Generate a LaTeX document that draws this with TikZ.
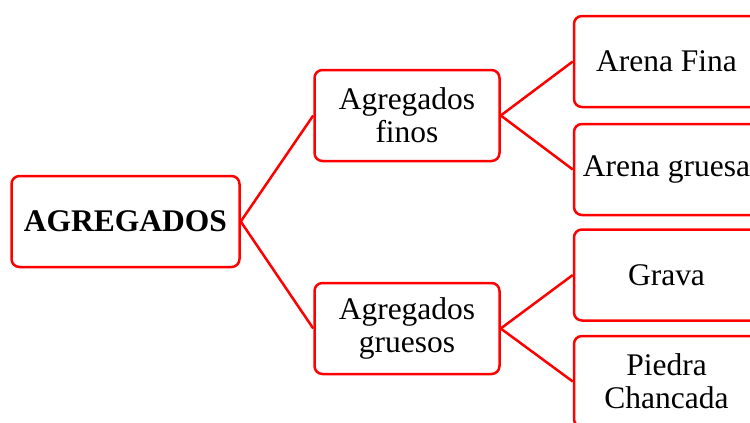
\documentclass[tikz,border=0pt]{standalone}
\usepackage{fontspec}
\setmainfont{Liberation Serif}
\usepackage{tikz}
\usetikzlibrary{positioning}
\tikzset{my_tree/.style={x=1pt,y=1pt,line width=2.5pt,red}}
\tikzset{my_box/.style={draw=red,rounded corners=8pt,text=black,align=center,inner sep=0pt,
    minimum width=185pt,minimum height=91pt,font=\fontsize{31.5}{33}\selectfont}}
\tikzset{my_root/.style={my_box,minimum width=228pt,font=\fontsize{31.5}{33}\selectfont\bfseries}}

\begin{document}
\begin{tikzpicture}[my_tree]
    \useasboundingbox (0,0) rectangle (750,-423);
    %\draw[help lines] (0,0) grid (750,-423);
    \node[my_root] (agr) at (125.5,-221.5) {AGREGADOS};
    \node[my_box] (finos) at (407,-115.5) {Agregados\\finos};
    \node[my_box] (gruesos) at (407,-328.5) {Agregados\\gruesos};
    \node[my_box] (afina) at (666.5,-61.5) {Arena Fina};
    \node[my_box] (agruesa) at (666.5,-169.5) {Arena gruesa};
    \node[my_box] (grava) at (666.5,-275) {Grava};
    \node[my_box] (piedra) at (666.5,-381.5) {Piedra\\Chancada};

    \path
        (agr.east) edge (finos.west)
        (agr.east) edge (gruesos.west)
        (finos.east) edge (afina.west)
        (finos.east) edge (agruesa.west)
        (gruesos.east) edge (grava.west)
        (gruesos.east) edge (piedra.west)
    ;
\end{tikzpicture}
\end{document}
